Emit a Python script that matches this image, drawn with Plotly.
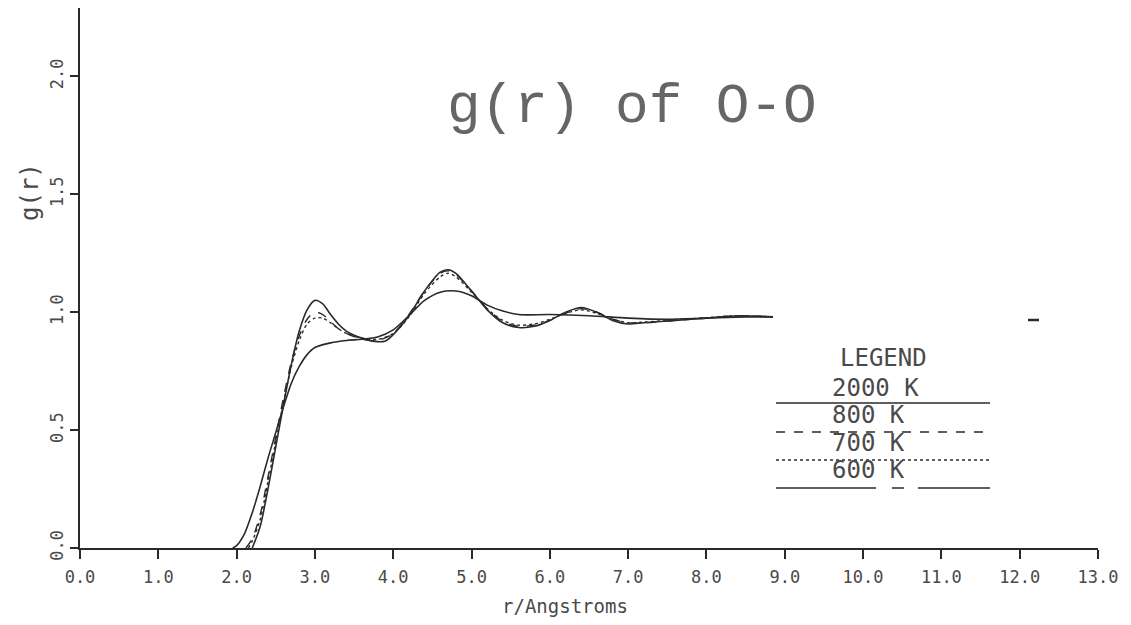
import plotly.graph_objects as go

# ---- data ----
r_2000 = [1.95, 2.0, 2.1, 2.2, 2.3, 2.4, 2.5, 2.6, 2.7, 2.8, 2.9, 3.0, 3.2, 3.4, 3.6, 3.8, 4.0, 4.2, 4.4, 4.6, 4.8, 5.0, 5.2, 5.4, 5.6, 6.0, 6.5, 7.0, 7.5, 8.0, 8.5, 8.85]
g_2000 = [0.0, 0.01, 0.06, 0.15, 0.26, 0.38, 0.49, 0.60, 0.70, 0.77, 0.82, 0.85, 0.87, 0.88, 0.885, 0.895, 0.925, 0.985, 1.05, 1.085, 1.09, 1.07, 1.03, 1.005, 0.99, 0.99, 0.985, 0.975, 0.97, 0.975, 0.98, 0.98]

r_800 = [2.12, 2.2, 2.3, 2.4, 2.5, 2.6, 2.7, 2.8, 2.9, 3.0, 3.1, 3.2, 3.3, 3.4, 3.6, 3.8, 4.0, 4.2, 4.4, 4.6, 4.7, 4.8, 5.0, 5.2, 5.4, 5.6, 5.8, 6.0, 6.2, 6.4, 6.6, 6.8, 7.0, 7.2, 7.6, 8.0, 8.4, 8.85]
g_800 = [0.0, 0.04, 0.14, 0.30, 0.47, 0.64, 0.79, 0.90, 0.97, 1.0, 0.99, 0.96, 0.93, 0.91, 0.885, 0.88, 0.91, 0.99, 1.09, 1.165, 1.175, 1.16, 1.09, 1.015, 0.96, 0.94, 0.945, 0.965, 0.995, 1.015, 1.0, 0.97, 0.955, 0.955, 0.965, 0.975, 0.985, 0.98]

r_700 = [2.15, 2.2, 2.3, 2.4, 2.5, 2.6, 2.7, 2.8, 2.9, 3.0, 3.1, 3.2, 3.3, 3.4, 3.6, 3.8, 4.0, 4.2, 4.4, 4.6, 4.7, 4.8, 5.0, 5.2, 5.4, 5.6, 5.8, 6.0, 6.2, 6.4, 6.6, 6.8, 7.0, 7.2, 7.6, 8.0, 8.4, 8.85]
g_700 = [0.0, 0.03, 0.12, 0.28, 0.45, 0.62, 0.77, 0.88, 0.95, 0.975, 0.975, 0.955, 0.93, 0.91, 0.89, 0.885, 0.91, 0.98, 1.08, 1.15, 1.165, 1.15, 1.085, 1.015, 0.965, 0.945, 0.95, 0.97, 0.995, 1.01, 0.995, 0.97, 0.955, 0.958, 0.967, 0.977, 0.985, 0.98]

r_600 = [2.2, 2.3, 2.4, 2.5, 2.6, 2.7, 2.8, 2.9, 3.0, 3.1, 3.2, 3.3, 3.4, 3.6, 3.8, 3.9, 4.0, 4.2, 4.4, 4.6, 4.7, 4.8, 5.0, 5.2, 5.4, 5.6, 5.8, 6.0, 6.2, 6.4, 6.6, 6.8, 7.0, 7.2, 7.6, 8.0, 8.4, 8.85]
g_600 = [0.0, 0.09, 0.25, 0.43, 0.61, 0.78, 0.92, 1.01, 1.05, 1.035, 0.99, 0.95, 0.92, 0.89, 0.875, 0.878, 0.905, 0.985, 1.09, 1.17, 1.18, 1.165, 1.09, 1.01, 0.955, 0.935, 0.94, 0.965, 1.0, 1.02, 1.0, 0.965, 0.95, 0.955, 0.965, 0.975, 0.985, 0.98]

series_names = ["2000 K", "800 K", "700 K", "600 K"]
x_ticks = [0, 1, 2, 3, 4, 5, 6, 7, 8, 9, 10, 11, 12, 13]
x_tick_labels = ["0.0", "1.0", "2.0", "3.0", "4.0", "5.0", "6.0", "7.0", "8.0", "9.0", "10.0", "11.0", "12.0", "13.0"]
y_ticks = [0.0, 0.5, 1.0, 1.5, 2.0]
y_tick_labels = ["0.0", "0.5", "1.0", "1.5", "2.0"]

INK = "#2a2a2a"
TXT = "#4a4a4a"
MONO = "DejaVu Sans Mono"

fig = go.Figure()
styles = [("solid", 1.6), ("dash", 1.4), ("dot", 1.4), ("solid", 1.6)]
for (rr, gg), name, (dash, w) in zip([(r_2000, g_2000), (r_800, g_800), (r_700, g_700), (r_600, g_600)], series_names, styles):
    fig.add_trace(go.Scatter(x=rr, y=gg, mode="lines", name=name,
                             line=dict(color=INK, width=w, dash=dash, shape="spline", smoothing=0.8),
                             showlegend=False))

# page offset from the default 8px body margin
OFF = 8
# plot area in page pixels: x 80..1098, y 8..548
L, R, T, B = 80, 1098, 8, 548
def px(x):
    return (x - L) / (R - L)
def py(y):
    return (B - y) / (B - T)

shapes = []
ann = []
ann.append(dict(text="LEGEND", x=px(883), y=py(358)))
legend_rows = [("2000 K", 388, 403, "solid"), ("800 K", 415, 432, "dash"), ("700 K", 443, 460, "dot"), ("600 K", 470, 488, "solid")]
for label, ty, ly, dash in legend_rows:
    ann.append(dict(text=label, x=px(868 if label != "2000 K" else 875), y=py(ty)))
    if label == "600 K":
        segs = [(776, 876), (892, 904), (918, 990)]
    else:
        segs = [(776, 990)]
    for a, b in segs:
        shapes.append(dict(type="line", xref="paper", yref="paper", x0=px(a), x1=px(b), y0=py(ly), y1=py(ly),
                           line=dict(color=INK, width=1.5, dash=dash)))
annotations = [dict(text=a["text"], x=a["x"], y=a["y"], xref="paper", yref="paper", showarrow=False,
                    font=dict(family=MONO, size=24, color=TXT), xanchor="center", yanchor="middle")
               for a in ann]
shapes.append(dict(type="line", xref="paper", yref="paper", x0=px(1028), x1=px(1039), y0=py(320), y1=py(320),
                   line=dict(color=INK, width=2.5)))

annotations.append(dict(text="g(r) of O-O", x=px(632), y=py(107), xref="paper", yref="paper", showarrow=False,
                        font=dict(family="Liberation Mono", size=56, color="#666666"), xanchor="center", yanchor="middle"))
annotations.append(dict(text="r/Angstroms", x=px(565), y=-(606 - B) / (B - T), xref="paper", yref="paper", showarrow=False,
                        font=dict(family=MONO, size=19, color=TXT), xanchor="center", yanchor="middle"))
annotations.append(dict(text="g(r)", x=-(L - 30) / (R - L), y=py(192), xref="paper", yref="paper", showarrow=False,
                        textangle=-90, font=dict(family=MONO, size=24, color=TXT), xanchor="center", yanchor="middle"))

fig.update_layout(
    width=1131, height=625,
    margin=dict(l=L - OFF, r=1131 - (R - OFF), t=T - OFF, b=625 - (B - OFF)),
    plot_bgcolor="white", paper_bgcolor="white",
    shapes=shapes, annotations=annotations,
)
fig.update_xaxes(range=[0, 13], tickvals=x_ticks, ticktext=x_tick_labels, ticks="outside", ticklen=9,
                 tickwidth=1.5, tickcolor=INK, showline=True, linecolor=INK, linewidth=2, showgrid=False,
                 zeroline=False, ticklabelstandoff=4, tickfont=dict(family=MONO, size=17, color=TXT))
fig.update_yaxes(range=[0, 2.29], tickvals=y_ticks, ticktext=y_tick_labels, ticks="outside", ticklen=8,
                 tickwidth=1.5, tickcolor=INK, showline=True, linecolor=INK, linewidth=2, showgrid=False,
                 zeroline=False, tickangle=-90, tickfont=dict(family=MONO, size=17, color=TXT))

fig.write_html("out.html")
